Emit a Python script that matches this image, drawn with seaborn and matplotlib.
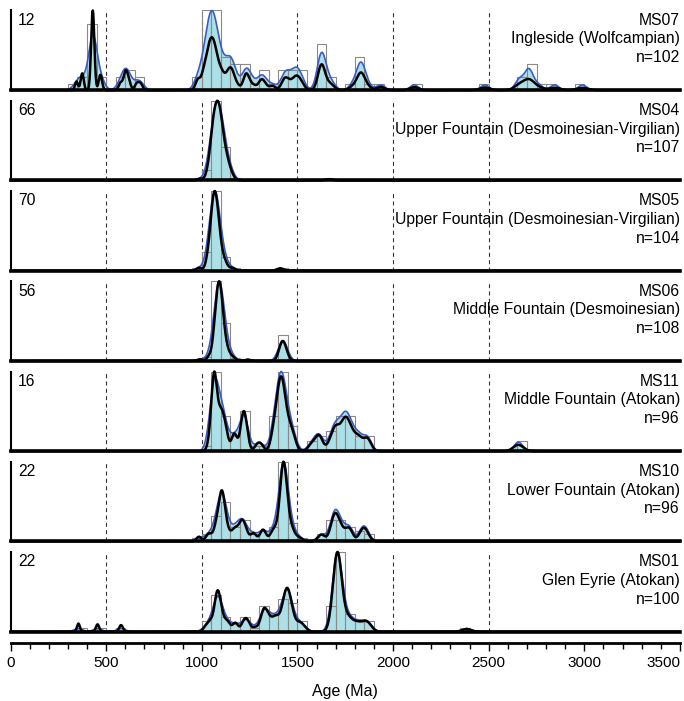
import numpy as np
import matplotlib
matplotlib.use("Agg")
import matplotlib.pyplot as plt
from matplotlib.ticker import MultipleLocator
import seaborn as sns

sns.set_style("ticks")
plt.rcParams['font.family'] = ['Liberation Sans', 'DejaVu Sans']
plt.rcParams['text.color'] = 'black'
plt.rcParams['axes.labelcolor'] = 'black'
plt.rcParams['xtick.color'] = 'black'
plt.rcParams['xtick.labelcolor'] = 'black'

# ---------------- data (grain ages in Ma, number of grains at each age) ----------------
MS07_ages = [345, 375, 430, 470, 575, 595, 605, 620, 660, 680,
             980, 1010, 1030, 1045, 1060, 1075, 1095, 1115, 1140, 1160, 1185,
             1230, 1245, 1270, 1310, 1330, 1370, 1430, 1445, 1460, 1485, 1505, 1525,
             1620, 1630, 1660, 1680, 1790, 1825, 1835, 1865, 1935,
             2110, 2480, 2660, 2705, 2715, 2760, 2845, 2990]
MS07_counts = [1, 2, 10, 2, 1, 1, 2, 1, 1, 1,
               2, 3, 4, 5, 5, 4, 3, 2, 3, 3, 1,
               3, 1, 1, 2, 1, 1, 2, 1, 1, 2, 2, 1,
               3, 4, 1, 1, 1, 2, 3, 1, 1,
               1, 1, 2, 2, 2, 1, 1, 1]

MS04_ages = [990, 1030, 1045, 1058, 1075, 1092, 1108, 1125, 1142, 1160, 1665]
MS04_counts = [1, 3, 6, 18, 24, 24, 14, 9, 5, 2, 1]

MS05_ages = [985, 1030, 1045, 1058, 1070, 1085, 1105, 1125, 1160, 1410]
MS05_counts = [2, 5, 11, 22, 26, 22, 8, 4, 2, 2]

MS06_ages = [990, 1040, 1070, 1085, 1095, 1105, 1120, 1140, 1165, 1240, 1415, 1428, 1440]
MS06_counts = [1, 3, 16, 22, 18, 15, 8, 4, 2, 1, 8, 7, 3]

MS11_ages = [1040, 1060, 1070, 1090, 1105, 1125, 1170, 1215, 1230, 1290, 1310,
             1375, 1395, 1410, 1425, 1440, 1460, 1480, 1570, 1590, 1615, 1665, 1690,
             1710, 1740, 1760, 1785, 1820, 1865, 2655]
MS11_counts = [1, 7, 6, 3, 4, 3, 3, 5, 3, 1, 1,
               3, 4, 7, 6, 3, 3, 2, 1, 1, 3, 1, 3,
               3, 4, 4, 3, 3, 3, 2]

MS10_ages = [985, 1030, 1045, 1075, 1095, 1105, 1115, 1135, 1165, 1185, 1210, 1230,
             1270, 1320, 1370, 1390, 1420, 1432, 1455, 1475, 1510, 1625, 1680, 1695,
             1705, 1730, 1770, 1840, 1860]
MS10_counts = [1, 1, 1, 3, 4, 5, 4, 2, 2, 2, 4, 2,
               2, 3, 2, 2, 10, 12, 3, 2, 1, 2, 2, 4,
               3, 3, 4, 3, 2]

MS01_ages = [355, 455, 578, 1020, 1045, 1075, 1090, 1110, 1135, 1175, 1220, 1240,
             1280, 1320, 1340, 1365, 1390, 1420, 1440, 1455, 1475, 1510, 1535,
             1680, 1695, 1705, 1715, 1730, 1760, 1785, 1815, 1840, 1860, 1880, 2385]
MS01_counts = [1, 1, 1, 1, 2, 5, 5, 2, 2, 2, 2, 2,
               1, 4, 3, 2, 3, 3, 6, 5, 3, 2, 1,
               2, 5, 8, 9, 5, 3, 2, 2, 1, 2, 1, 1]

sample_ids = ["MS07", "MS04", "MS05", "MS06", "MS11", "MS10", "MS01"]
units = ["Ingleside (Wolfcampian)",
         "Upper Fountain (Desmoinesian-Virgilian)",
         "Upper Fountain (Desmoinesian-Virgilian)",
         "Middle Fountain (Desmoinesian)",
         "Middle Fountain (Atokan)",
         "Lower Fountain (Atokan)",
         "Glen Eyrie (Atokan)"]
n_labels = ["n=102", "n=107", "n=104", "n=108", "n=96", "n=96", "n=100"]
max_counts = [12, 66, 70, 56, 16, 22, 22]
all_ages = [MS07_ages, MS04_ages, MS05_ages, MS06_ages, MS11_ages, MS10_ages, MS01_ages]
all_counts = [MS07_counts, MS04_counts, MS05_counts, MS06_counts, MS11_counts,
              MS10_counts, MS01_counts]

x_ticks_major = [0, 500, 1000, 1500, 2000, 2500, 3000, 3500]
ref_lines = [500, 1000, 1500, 2000, 2500]

# ---------------- style ----------------
CYAN = "#ace0e7"
BLUE = "#3c5cc4"
BAR = "#8a8a8a"
KDE_BW = 22.0          # Ma, fixed KDE bandwidth
W, H = 684, 701
LEFT, RIGHT = 10.5, 680.0

fig = plt.figure(figsize=(W / 100, H / 100), dpi=100)


def pos(top, h):
    return [LEFT / W, 1 - (top + h) / H, (RIGHT - LEFT) / W, h / H]


grid = np.linspace(0, 3500, 3501)

for i in range(7):
    ages = np.array(all_ages[i], dtype=float)
    cnts = np.array(all_counts[i], dtype=float)
    top = 10.5 + 90.25 * i
    ax = fig.add_axes(pos(top, 79.7))
    ax.set_xlim(0, 3500)
    ax.set_ylim(0, max_counts[i])
    ax.set_axis_off()
    for v in ref_lines:
        ax.axvline(v, color="#333333", lw=0.8, ls=(0, (3.6, 3.0)))

    axf = ax.twinx()
    axh = ax.twinx()
    axb = ax.twinx()
    axp = ax.twinx()
    for a in (axf, axh, axb):
        a.set_axis_off()

    wstd = np.sqrt(np.cov(ages, aweights=cnts))
    bw = KDE_BW / wstd

    # KDE fill
    sns.kdeplot(x=ages, weights=cnts, bw_method=bw, ax=axf, fill=True,
                color=CYAN, alpha=1, linewidth=0, gridsize=2000, cut=4)
    # histogram (open bars)
    sns.histplot(x=ages, weights=cnts, binwidth=50, binrange=(0, 3500),
                 fill=False, color=BAR, linewidth=0.8, ax=axh)
    axh.set_ylim(0, max_counts[i])
    # KDE line
    sns.kdeplot(x=ages, weights=cnts, bw_method=bw, ax=axb, color=BLUE,
                linewidth=1.2, gridsize=2000, cut=4)
    kmax = axb.lines[0].get_ydata().max()
    axb.set_ylim(0, kmax)
    axf.set_ylim(0, kmax)
    for ln in axb.lines:
        ln.set_clip_on(False)

    # probability density plot (age-dependent uncertainty)
    sig = 0.008 * ages + 5.0
    pdp = (cnts[:, None] / (sig[:, None] * np.sqrt(2 * np.pi)) *
           np.exp(-0.5 * ((grid[None, :] - ages[:, None]) / sig[:, None]) ** 2)).sum(0)
    sns.lineplot(x=grid, y=pdp, ax=axp, color="black", linewidth=1.8,
                 estimator=None, sort=False)
    for ln in axp.lines:
        ln.set_clip_on(False)
    axp.set_ylim(0, pdp.max())
    axp.set_xlim(0, 3500)
    axp.set_xlabel("")
    axp.set_ylabel("")
    axp.tick_params(left=False, right=False, bottom=False, top=False,
                    labelleft=False, labelright=False, labelbottom=False)
    axp.spines["top"].set_visible(False)
    axp.spines["right"].set_visible(False)
    axp.spines["left"].set_visible(True)
    axp.spines["left"].set_linewidth(1.5)
    axp.spines["left"].set_color("black")
    axp.spines["bottom"].set_linewidth(2.6)
    axp.spines["bottom"].set_color("black")
    axp.spines["left"].set_zorder(10)
    axp.spines["bottom"].set_zorder(10)

    axp.text(0.011, 0.97, str(max_counts[i]), transform=axp.transAxes,
             ha="left", va="top", fontsize=11.3, color="black")
    axp.text(1.0, 0.97, f"{sample_ids[i]}\n{units[i]}\n{n_labels[i]}",
             transform=axp.transAxes, ha="right", va="top", fontsize=11.3,
             linespacing=1.3, color="black")

# ---------------- shared age axis ----------------
axx = fig.add_axes([LEFT / W, 1 - 642.7 / H, (RIGHT - LEFT) / W, 0.0001])
axx.set_xlim(0, 3500)
axx.set_yticks([])
for s in ("top", "left", "right"):
    axx.spines[s].set_visible(False)
axx.spines["bottom"].set_linewidth(2.0)
axx.spines["bottom"].set_color("black")
axx.set_xticks(x_ticks_major)
axx.xaxis.set_minor_locator(MultipleLocator(100))
axx.tick_params(axis="x", which="major", direction="out", length=5.5, width=1,
                color="black", labelsize=11, pad=4, labelcolor="black")
axx.tick_params(axis="x", which="minor", direction="out", length=4, width=1,
                color="black")
axx.get_xticklabels()[-1].set_horizontalalignment("right")
axx.get_xticklabels()[-1].set_x(3500)
axx.set_xlabel("Age (Ma)", fontsize=11.5, labelpad=10, color="black")

fig.savefig("out.png", dpi=100)
